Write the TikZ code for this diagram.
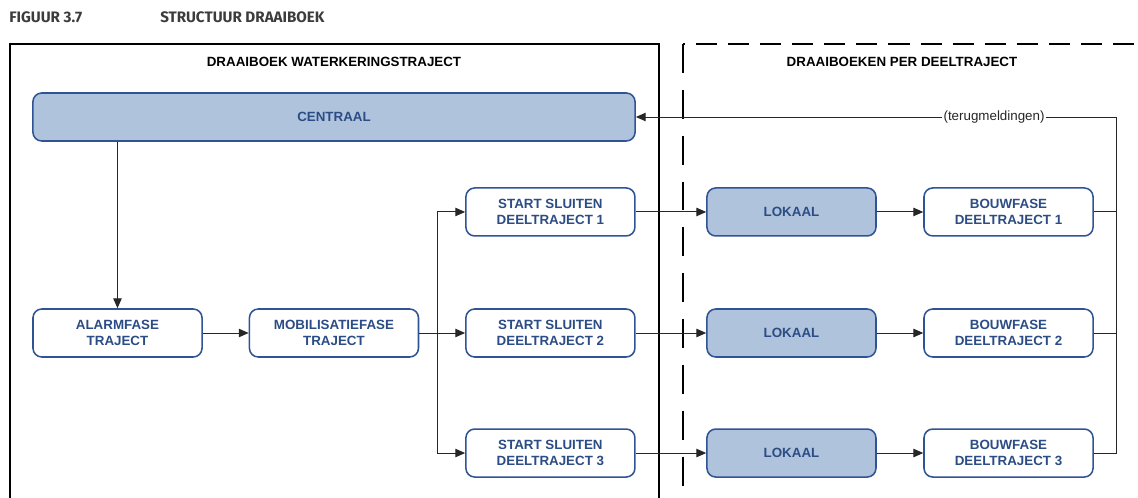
\documentclass[tikz,border=0pt]{standalone}
\usepackage{fontspec}
\setmainfont{Liberation Sans}
\newfontfamily\titelfont{Fira Sans}
\usetikzlibrary{arrows.meta,positioning,calc}
\definecolor{kaderblauw}{HTML}{2F5496}
\definecolor{tekstblauw}{HTML}{2B4C84}
\definecolor{vulblauw}{HTML}{B0C3DC}
\definecolor{titelgrijs}{HTML}{3C3C3C}

\begin{document}
\begin{tikzpicture}[x=0.025cm, y=-0.025cm, node distance=5.41cm]
    \tikzstyle{fase} = [rectangle, rounded corners=0.22cm, draw=kaderblauw, line width=1.1pt, fill=white, text=tekstblauw, align=center, minimum width=4.225cm, minimum height=1.2cm, inner sep=0pt, font=\fontsize{9.5}{11.4}\selectfont\bfseries]
    \tikzstyle{lokaal} = [fase, fill=vulblauw]
    \tikzstyle{kader} = [line width=1.3pt, black]
    \tikzstyle{lijn} = [line width=0.7pt, black!85, >={Triangle[length=7pt,width=6pt]}]
    \tikzstyle{kop} = [font=\fontsize{9.5}{11}\selectfont\bfseries, text=black]
    \tikzstyle{titel} = [anchor=west, text=titelgrijs, font=\titelfont\fontsize{10.8}{12}\selectfont\bfseries, inner sep=0pt]

    \useasboundingbox (0,0) rectangle (1138,498);

    % Titel
    \node[titel] (figuur) at (9,17) {FIGUUR 3.7};
    \node[titel] (titeltekst) at (160,17) {STRUCTUUR DRAAIBOEK};

    % Kaders
    \draw[kader] (10,498) -- (10,44) -- (659,44) -- (659,498);
    \draw[kader, dash pattern=on 20.6pt off 12pt] (683,44) -- (683,498);
    \draw[kader, dash pattern=on 15pt off 7.8pt, dash phase=13.5pt] (683,44) -- (1138,44);
    \node[kop] (kopwater) at (334,62) {DRAAIBOEK WATERKERINGSTRAJECT};
    \node[kop] (kopdeel) at (902,62) {DRAAIBOEKEN PER DEELTRAJECT};

    % Fases
    \node[lokaal, minimum width=15.05cm] (centraal) at (334,117) {CENTRAAL};
    \node[fase] (alarm) at (117.5,333) {ALARMFASE\\TRAJECT};
    \node[fase, right of=alarm] (mobilisatie) {MOBILISATIEFASE\\TRAJECT};
    \node[fase, right of=mobilisatie] (start2) {START SLUITEN\\DEELTRAJECT 2};
    \node[fase, above of=start2, node distance=3.025cm] (start1) {START SLUITEN\\DEELTRAJECT 1};
    \node[fase, below of=start2, node distance=3cm] (start3) {START SLUITEN\\DEELTRAJECT 3};

    % Deeltrajecten
    \node[lokaal, right of=start2, xshift=0.615cm] (lokaal2) {LOKAAL};
    \node[lokaal, above of=lokaal2, node distance=3.025cm] (lokaal1) {LOKAAL};
    \node[lokaal, below of=lokaal2, node distance=3cm] (lokaal3) {LOKAAL};
    \node[fase, right of=lokaal2, node distance=5.425cm] (bouw2) {BOUWFASE\\DEELTRAJECT 2};
    \node[fase, above of=bouw2, node distance=3.025cm] (bouw1) {BOUWFASE\\DEELTRAJECT 1};
    \node[fase, below of=bouw2, node distance=3cm] (bouw3) {BOUWFASE\\DEELTRAJECT 3};

    % Verbindingen
    \coordinate (splits) at ($(mobilisatie.east)+(18,0)$);
    \coordinate (terughoek) at (1116,117);
    \draw[lijn, ->] (centraal.south -| alarm) -- (alarm);
    \draw[lijn, ->] (alarm) -- (mobilisatie);
    \draw[lijn, ->] (mobilisatie) -- (start2);
    \draw[lijn, ->] (splits) |- (start1);
    \draw[lijn, ->] (splits) |- (start3);
    \draw[lijn, ->] (start1) -- (lokaal1);
    \draw[lijn, ->] (start2) -- (lokaal2);
    \draw[lijn, ->] (start3) -- (lokaal3);
    \draw[lijn, ->] (lokaal1) -- (bouw1);
    \draw[lijn, ->] (lokaal2) -- (bouw2);
    \draw[lijn, ->] (lokaal3) -- (bouw3);

    % Terugmeldingen
    \draw[lijn] (bouw1.east) -- (bouw1.east -| terughoek);
    \draw[lijn] (bouw2.east) -- (bouw2.east -| terughoek);
    \draw[lijn, ->] (bouw3.east) -| (terughoek) -- node[pos=0.254, fill=white, inner sep=1pt, text=black!85, font=\fontsize{9.5}{11}\selectfont] (terug) {(terugmeldingen)} (centraal.east);
\end{tikzpicture}
\end{document}
